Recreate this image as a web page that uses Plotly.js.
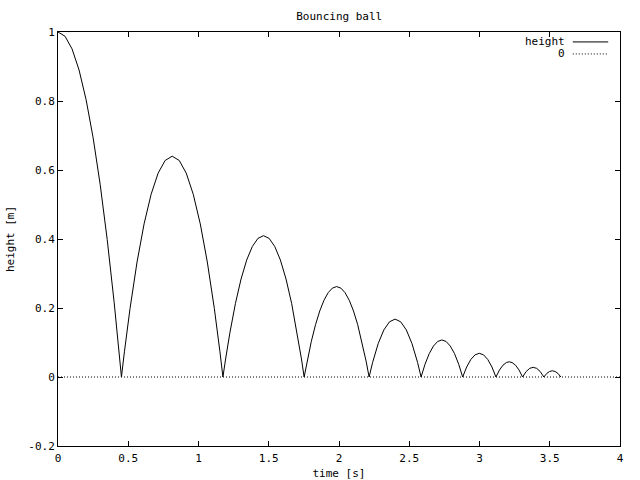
<!DOCTYPE html>
<html>
<head>
<meta charset="utf-8">
<script src="https://cdn.plot.ly/plotly-3.0.1.min.js"></script>
<style>html,body{margin:0;padding:0;background:#fff;}#chart{width:640px;height:480px;}</style>
</head>
<body>
<div id="chart"></div>
<script>
// Bouncing ball: time [s] and height [m]
const time = [
  0, 0.05, 0.1, 0.15, 0.2, 0.25, 0.3, 0.35, 0.4, 0.425, 0.4515,
  0.4727, 0.5127, 0.5627, 0.6127, 0.6627, 0.7127, 0.7627, 0.8127, 0.8627, 0.9127, 0.9627, 1.0127, 1.0627, 1.1127, 1.1527, 1.1739,
  1.1929, 1.2229, 1.2629, 1.3029, 1.3429, 1.3829, 1.4229, 1.4629, 1.5029, 1.5429, 1.5829, 1.6229, 1.6629, 1.7029, 1.7329, 1.7518,
  1.773, 1.803, 1.833, 1.863, 1.893, 1.923, 1.953, 1.983, 2.013, 2.043, 2.073, 2.103, 2.133, 2.163, 2.193, 2.2142,
  2.2392, 2.2792, 2.3192, 2.3592, 2.3992, 2.4392, 2.4792, 2.5192, 2.5592, 2.5842,
  2.6122, 2.6422, 2.6722, 2.7022, 2.7322, 2.7622, 2.7922, 2.8222, 2.8522, 2.8802,
  2.9086, 2.9386, 2.9686, 2.9986, 3.0286, 3.0586, 3.0886, 3.117,
  3.1417, 3.1667, 3.1917, 3.2117, 3.2317, 3.2567, 3.2817, 3.3064,
  3.3322, 3.3572, 3.3822, 3.4072, 3.4322, 3.458,
  3.4786, 3.4986, 3.5186, 3.5386, 3.5586, 3.5792
];
const height = [
  1, 0.9877, 0.951, 0.8896, 0.8038, 0.6934, 0.5586, 0.3991, 0.2152, 0.114, 0,
  0.073, 0.1985, 0.3334, 0.4438, 0.5296, 0.591, 0.6277, 0.64, 0.6277, 0.591, 0.5296, 0.4438, 0.3334, 0.1985, 0.073, 0,
  0.052, 0.1271, 0.2134, 0.284, 0.339, 0.3782, 0.4018, 0.4096, 0.4018, 0.3782, 0.339, 0.284, 0.2134, 0.1271, 0.052, 0,
  0.0458, 0.1032, 0.1517, 0.1915, 0.2224, 0.2444, 0.2577, 0.2621, 0.2577, 0.2444, 0.2224, 0.1915, 0.1517, 0.1032, 0.0458, 0,
  0.0422, 0.0972, 0.1364, 0.16, 0.1678, 0.16, 0.1364, 0.0972, 0.0422, 0,
  0.0368, 0.0677, 0.0897, 0.103, 0.1074, 0.103, 0.0897, 0.0677, 0.0368, 0,
  0.029, 0.051, 0.0643, 0.0687, 0.0643, 0.051, 0.029, 0,
  0.02, 0.0341, 0.042, 0.044, 0.042, 0.0341, 0.02, 0,
  0.0158, 0.025, 0.0281, 0.025, 0.0158, 0,
  0.0102, 0.016, 0.018, 0.016, 0.0102, 0
];
const zeroX = [0, 4];
const zeroY = [0, 0];
const seriesNames = ["height", "0"];
const xTickVals = [0, 0.5, 1, 1.5, 2, 2.5, 3, 3.5, 4];
const xTickText = ["0", "0.5", "1", "1.5", "2", "2.5", "3", "3.5", "4"];
const yTickVals = [-0.2, 0, 0.2, 0.4, 0.6, 0.8, 1];
const yTickText = ["-0.2", "0", "0.2", "0.4", "0.6", "0.8", "1"];

const FONT = "DejaVu Sans Mono, Liberation Mono, monospace";
const DOTS = "1px,2px";

const traces = [
  {x: time, y: height, type: "scatter", mode: "lines", name: seriesNames[0],
   line: {color: "#000", width: 1}, showlegend: false},
  {x: zeroX, y: zeroY, type: "scatter", mode: "lines", name: seriesNames[1],
   line: {color: "#000", width: 1, dash: DOTS}, showlegend: false}
];

const axisCommon = {
  showgrid: false, zeroline: false, showline: true, linecolor: "#000", linewidth: 1,
  mirror: "ticks", ticks: "inside", ticklen: 5, tickwidth: 1, tickcolor: "#000",
  tickfont: {family: FONT, size: 11, color: "#000"}
};

const layout = {
  width: 640, height: 480,
  margin: {l: 58, r: 20, t: 32, b: 34, pad: 0},
  paper_bgcolor: "#fff", plot_bgcolor: "#fff",
  font: {family: FONT, size: 11, color: "#000"},
  title: {text: "Bouncing ball", font: {family: FONT, size: 11, color: "#000"},
          x: 0.53, xanchor: "center", y: 0.967, yanchor: "middle"},
  xaxis: Object.assign({}, axisCommon, {
    range: [0, 4], tickvals: xTickVals, ticktext: xTickText, ticklabelstandoff: 2,
    title: {text: "time [s]", font: {family: FONT, size: 11, color: "#000"}, standoff: 5}
  }),
  yaxis: Object.assign({}, axisCommon, {
    range: [-0.2, 1], tickvals: yTickVals, ticktext: yTickText,
    title: {text: "height [m]", font: {family: FONT, size: 11, color: "#000"}, standoff: 11}
  }),
  showlegend: false,
  annotations: [
    {xref: "paper", yref: "paper", x: 0.906, y: 0.976, xanchor: "right", yanchor: "middle",
     text: seriesNames[0], showarrow: false, font: {family: FONT, size: 11, color: "#000"}},
    {xref: "paper", yref: "paper", x: 0.906, y: 0.947, xanchor: "right", yanchor: "middle",
     text: seriesNames[1], showarrow: false, font: {family: FONT, size: 11, color: "#000"}}
  ],
  shapes: [
    {type: "line", xref: "paper", yref: "paper", x0: 0.916, x1: 0.979, y0: 0.976, y1: 0.976,
     line: {color: "#000", width: 1}},
    {type: "line", xref: "paper", yref: "paper", x0: 0.916, x1: 0.979, y0: 0.947, y1: 0.947,
     line: {color: "#000", width: 1, dash: DOTS}}
  ]
};

Plotly.newPlot("chart", traces, layout, {displayModeBar: false, staticPlot: true});
</script>
</body>
</html>
